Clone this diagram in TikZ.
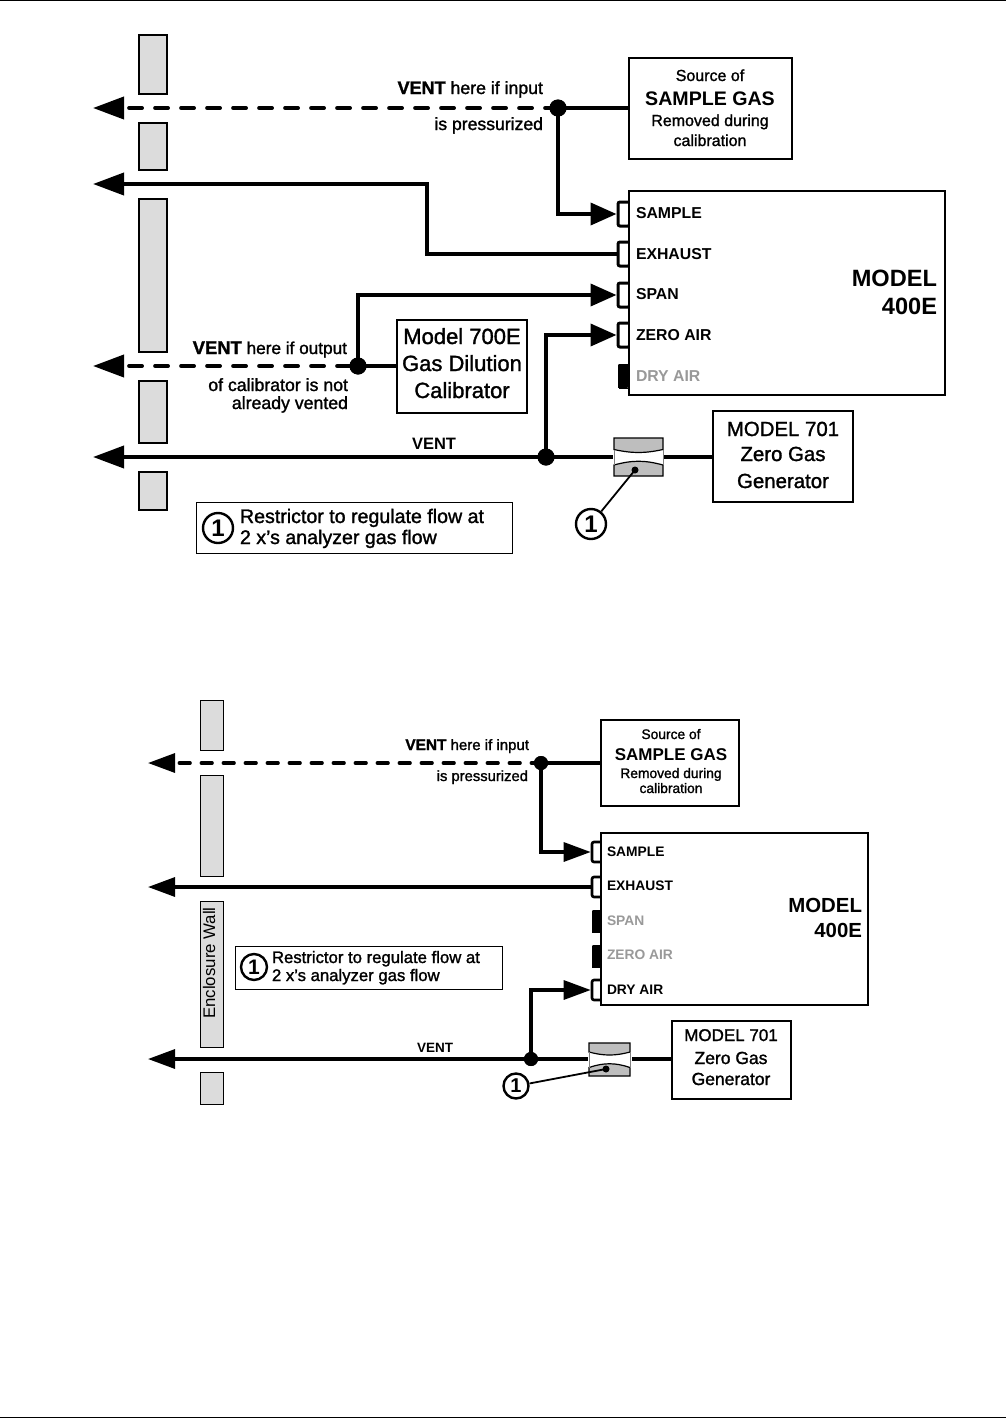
\documentclass[tikz,border=0pt]{standalone}
\usepackage{fontspec}
\setmainfont{Liberation Sans}
\newfontfamily\semi[FakeBold=1.4]{Liberation Sans}
\usetikzlibrary{arrows.meta}
\newcommand{\fsz}[1]{\fontsize{#1}{#1}\selectfont}
\definecolor{wallgray}{HTML}{DCDCDC}
\definecolor{restgray}{HTML}{BEBEBE}
\definecolor{dimtext}{HTML}{999999}
\tikzset{
  x=1pt,y=-1pt,
  txt/.style={inner sep=0pt,outer sep=0pt,font=\semi,anchor=base},
  txtl/.style={txt,anchor=base west},
  txtr/.style={txt,anchor=base east},
  wall/.style={draw=black,line width=1.3pt,fill=wallgray},
  wallb/.style={draw=black,line width=1pt,fill=wallgray},
  bx/.style={draw=black,line width=2pt,fill=white},
  note/.style={draw=black,line width=1pt,fill=white},
  pipeA/.style={line width=3.8pt,draw=black},
  pipeB/.style={line width=3.2pt,draw=black},
  tipA/.style={-{Triangle[length=31pt,width=22pt]}},
  tipB/.style={-{Triangle[length=26pt,width=22pt]}},
  tipC/.style={-{Triangle[length=27pt,width=19pt]}},
  dashA/.style={line cap=round,dash pattern=on 13pt off 13pt,dash phase=-6pt,{Triangle[length=31pt,width=22pt]}-},
  dashB/.style={line cap=round,dash pattern=on 11pt off 11pt,dash phase=-5pt,{Triangle[length=27pt,width=19pt]}-},
  dot/.style={circle,fill=black,draw=none,minimum size=17pt,inner sep=0pt},
  dots/.style={circle,fill=black,draw=none,minimum size=14pt,inner sep=0pt},
  smalldot/.style={circle,fill=black,draw=none,minimum size=7pt,inner sep=0pt},
  numc/.style={circle,draw=black,line width=2.4pt,fill=white,inner sep=0pt},
  portopen/.style={draw=black,fill=white,line width=3pt,rounded corners=2pt,inner sep=0pt,minimum width=12pt,minimum height=24pt},
  portshut/.style={draw=black,fill=black,line width=0pt,rounded corners=1pt,inner sep=0pt,minimum width=10pt,minimum height=24pt},
  portopenb/.style={portopen,line width=2.6pt,minimum width=10pt,minimum height=20pt},
  portshutb/.style={portshut,minimum width=9pt,minimum height=22pt},
  leader/.style={line width=1.8pt,draw=black},
  frule/.style={line width=1pt,draw=black},
}
% \restrictor{x-left}{x-right}{y-top}{y-bottom}
\newcommand{\restrictor}[4]{%
  \pgfmathsetmacro{\rmid}{(#3+#4)/2}%
  \pgfmathsetmacro{\rcx}{(#1+#2)/2}%
  \pgfmathsetmacro{\ruA}{\rmid-7.5}%
  \pgfmathsetmacro{\ruB}{\rmid-3.5}%
  \pgfmathsetmacro{\rlA}{\rmid+8}%
  \pgfmathsetmacro{\rlB}{\rmid+3}%
  \fill[white] (#1-1,\ruA) rectangle (#2+1,\rlA);
  \draw[line width=1.2pt,fill=restgray] (#1,#3) -- (#2,#3) -- (#2,\ruA) .. controls (\rcx+6,\ruB) and (\rcx-6,\ruB) .. (#1,\ruA) -- cycle;
  \draw[line width=1.2pt,fill=restgray] (#1,#4) -- (#2,#4) -- (#2,\rlA) .. controls (\rcx+6,\rlB) and (\rcx-6,\rlB) .. (#1,\rlA) -- cycle;
  \draw[line width=.4pt,draw=black!50] (#1,\ruA) -- (#1,\rlA) (#2,\ruA) -- (#2,\rlA);
}
\begin{document}
\begin{tikzpicture}
\useasboundingbox (0,0) rectangle (1006,1419);
\fill[white] (0,0) rectangle (1006,1419);
\coordinate (ruleTL) at (0,0.5); \coordinate (ruleTR) at (1006,0.5);
\coordinate (ruleBL) at (0,1417.5); \coordinate (ruleBR) at (1006,1417.5);
\draw[frule] (ruleTL) -- (ruleTR);
\draw[frule] (ruleBL) -- (ruleBR);

% ===== top: walls
\draw[wall] (139,35) rectangle (167,94);
\draw[wall] (139,123) rectangle (167,170);
\draw[wall] (139,199) rectangle (167,352);
\draw[wall] (139,381) rectangle (167,443);
\draw[wall] (139,472) rectangle (167,510);

% ===== top: named points
\node[portopen] (pA) at (624,214) {};
\node[portopen] (pB) at (624,254) {};
\node[portopen] (pC) at (624,295) {};
\node[portopen] (pD) at (624,335) {};
\node[portshut] (pE) at (623,376) {};
\node[dot] (dA) at (558,108) {};
\node[dot] (dB) at (358,366) {};
\node[dot] (dC) at (546,457) {};
\coordinate (tipA) at (93,108);
\coordinate (tipB) at (93,184);
\coordinate (tipC) at (93,366);
\coordinate (tipD) at (93,457);
\coordinate (rl) at (613,457);
\coordinate (rr) at (664,457);
\coordinate (bendA) at (427,254);
\node[bx,minimum width=163pt,minimum height=101pt,inner sep=0pt] (src) at (710.5,108.5) {};
\node[bx,minimum width=316pt,minimum height=204pt,inner sep=0pt] (model) at (787,293) {};
\node[bx,minimum width=130pt,minimum height=93pt,inner sep=0pt] (cal) at (462,366.5) {};
\node[bx,minimum width=140pt,minimum height=91pt,inner sep=0pt] (gen) at (783,456.5) {};

% ===== top: connectors
\draw[pipeA,dashA] (tipA) -- (dA.center);
\draw[pipeA] (dA.center) -- (dA.center -| src.west);
\draw[pipeA,tipB] (dA.center) |- (pA.west);
\draw[pipeA,tipA] (pB.west) -- (bendA) |- (tipB);
\draw[pipeA,tipB] (dB.center) |- (pC.west);
\draw[pipeA,dashA] (tipC) -- (dB.center);
\draw[pipeA] (dB.center) -- (dB.center -| cal.west);
\draw[pipeA,tipB] (dC.center) |- (pD.west);
\draw[pipeA,tipA] (rl) -- (tipD);
\draw[pipeA] (rr) -- (rr -| gen.west);
\node[dot] at (dA) {};
\node[dot] at (dB) {};
\node[dot] at (dC) {};

% ===== top: restrictor
\restrictor{614}{663}{438}{476}
\node[smalldot] (rdA) at (635,470) {};
\node[numc,minimum size=30pt,font=\bfseries\fsz{24}] (cA) at (591,524) {1};
\draw[leader] (rdA.center) -- (cA);

% ===== top: labels
\node[txt,font=\semi\fsz{16}] (t1) at (710,81) {Source of};
\node[txt,font=\bfseries\fsz{19.6}] (t2) at (710,105) {SAMPLE GAS};
\node[txt,font=\semi\fsz{16}] (t3) at (710,126) {Removed during};
\node[txt,font=\semi\fsz{16}] (t4) at (710,146) {calibration};
\node[txtr,font=\semi\fsz{17.7}] (t5) at (543,94) {{\bfseries\fsz{18}VENT} here if input};
\node[txtr,font=\semi\fsz{17.6}] (t6) at (543,130) {is pressurized};
\node[txtr,font=\semi\fsz{17.2}] (t7) at (347,354) {{\bfseries\fsz{18.4}VENT} here if output};
\node[txtr,font=\semi\fsz{17.7}] (t8) at (348,391) {of calibrator is not};
\node[txtr,font=\semi\fsz{17.7}] (t9) at (348,409) {already vented};
\node[txtl,font=\bfseries\fsz{15.8}] (l1) at (636,218) {SAMPLE};
\node[txtl,font=\bfseries\fsz{15.8}] (l2) at (636,259) {EXHAUST};
\node[txtl,font=\bfseries\fsz{15.8}] (l3) at (636,299) {SPAN};
\node[txtl,font=\bfseries\fsz{15.8}] (l4) at (636,340) {ZERO AIR};
\node[txtl,font=\bfseries\fsz{15.8},text=dimtext] (l5) at (636,381) {DRY AIR};
\node[txtr,font=\bfseries\fsz{23.6}] (m1) at (937,286) {MODEL};
\node[txtr,font=\bfseries\fsz{23.6}] (m2) at (937,314) {400E};
\node[txt,font=\semi\fsz{22}] (c1) at (462,344) {Model 700E};
\node[txt,font=\semi\fsz{22}] (c2) at (462,371) {Gas Dilution};
\node[txt,font=\semi\fsz{22}] (c3) at (462,398) {Calibrator};
\node[txt,font=\semi\fsz{20.4}] (g1) at (783,436) {MODEL 701};
\node[txt,font=\semi\fsz{20.4}] (g2) at (783,461) {Zero Gas};
\node[txt,font=\semi\fsz{20.4}] (g3) at (783,488) {Generator};
\node[txt,font=\bfseries\fsz{16.5}] (v1) at (434,449) {VENT};
\node[note,minimum width=316pt,minimum height=51pt,inner sep=0pt] (nA) at (354,527.5) {};
\node[numc,minimum size=30pt,font=\bfseries\fsz{24}] (nAc) at (218,528) {1};
\node[txtl,font=\semi\fsz{19.6}] (nA1) at (240,523) {Restrictor to regulate flow at};
\node[txtl,font=\semi\fsz{19.6}] (nA2) at (240,544) {2 x’s analyzer gas flow};

% ===== bottom: walls
\draw[wallb] (200,700) rectangle (223,750);
\draw[wallb] (200,775) rectangle (223,876);
\node[wallb,minimum width=23pt,minimum height=146pt,inner sep=0pt] (encl) at (211.5,974) {};
\draw[wallb] (200,1072) rectangle (223,1104);
\node[inner sep=0pt,rotate=90,font=\fsz{16.8}] (enclt) at (209,963) {Enclosure Wall};

% ===== bottom: named points
\node[portopenb] (qA) at (597,852) {};
\node[portopenb] (qB) at (597,887) {};
\node[portshutb] (qC) at (596.5,921) {};
\node[portshutb] (qD) at (596.5,956) {};
\node[portopenb] (qE) at (597,990) {};
\node[dots] (eA) at (541,763) {};
\node[dots] (eB) at (531,1059) {};
\coordinate (tipE) at (148,763);
\coordinate (tipF) at (148,887);
\coordinate (tipG) at (148,1059);
\coordinate (sl) at (589,1059);
\coordinate (sr) at (632,1059);
\node[bx,minimum width=138pt,minimum height=86pt,inner sep=0pt] (srcb) at (670,763) {};
\node[bx,minimum width=267pt,minimum height=172pt,inner sep=0pt] (modelb) at (734.5,919) {};
\node[bx,minimum width=119pt,minimum height=78pt,inner sep=0pt] (genb) at (731.5,1060) {};

% ===== bottom: connectors
\draw[pipeB,dashB] (tipE) -- (eA.center);
\draw[pipeB] (eA.center) -- (srcb.west);
\draw[pipeB,tipC] (eA.center) |- (qA.west);
\draw[pipeB,tipC] (qB.west) -- (tipF);
\draw[pipeB,tipC] (eB.center) |- (qE.west);
\draw[pipeB,tipC] (sl) -- (tipG);
\draw[pipeB] (sr) -- (sr -| genb.west);
\node[dots] at (eA) {};
\node[dots] at (eB) {};

% ===== bottom: restrictor
\restrictor{589}{630}{1043}{1076}
\node[smalldot] (rdB) at (606,1069) {};
\node[numc,minimum size=25pt,font=\bfseries\fsz{20}] (cB) at (516,1086) {1};
\draw[leader] (rdB.center) -- (cB);

% ===== bottom: labels
\node[txt,font=\semi\fsz{13.8}] (b1) at (671,739) {Source of};
\node[txt,font=\bfseries\fsz{17}] (b2) at (671,760) {SAMPLE GAS};
\node[txt,font=\semi\fsz{13.8}] (b3) at (671,778) {Removed during};
\node[txt,font=\semi\fsz{13.8}] (b4) at (671,793) {calibration};
\node[txtr,font=\semi\fsz{15}] (b5) at (529,750) {{\bfseries\fsz{15.4}VENT} here if input};
\node[txtr,font=\semi\fsz{14.8}] (b6) at (528,781) {is pressurized};
\node[txtl,font=\bfseries\fsz{13.8}] (k1) at (607,856) {SAMPLE};
\node[txtl,font=\bfseries\fsz{13.8}] (k2) at (607,890) {EXHAUST};
\node[txtl,font=\bfseries\fsz{13.8},text=dimtext] (k3) at (607,925) {SPAN};
\node[txtl,font=\bfseries\fsz{13.8},text=dimtext] (k4) at (607,959) {ZERO AIR};
\node[txtl,font=\bfseries\fsz{13.8}] (k5) at (607,994) {DRY AIR};
\node[txtr,font=\bfseries\fsz{20.4}] (n1) at (862,912) {MODEL};
\node[txtr,font=\bfseries\fsz{20.4}] (n2) at (862,937) {400E};
\node[txt,font=\semi\fsz{17}] (h1) at (731,1041) {MODEL 701};
\node[txt,font=\semi\fsz{17.5}] (h2) at (731,1064) {Zero Gas};
\node[txt,font=\semi\fsz{17.5}] (h3) at (731,1085) {Generator};
\node[txt,font=\bfseries\fsz{13.5}] (v2) at (435,1052) {VENT};
\node[note,minimum width=267pt,minimum height=43pt,inner sep=0pt] (nB) at (368.5,967.5) {};
\node[numc,minimum size=26pt,font=\bfseries\fsz{21}] (nBc) at (254,967) {1};
\node[txtl,font=\semi\fsz{16.7}] (nB1) at (272,963) {Restrictor to regulate flow at};
\node[txtl,font=\semi\fsz{16.7}] (nB2) at (272,981) {2 x’s analyzer gas flow};
\end{tikzpicture}
\end{document}
